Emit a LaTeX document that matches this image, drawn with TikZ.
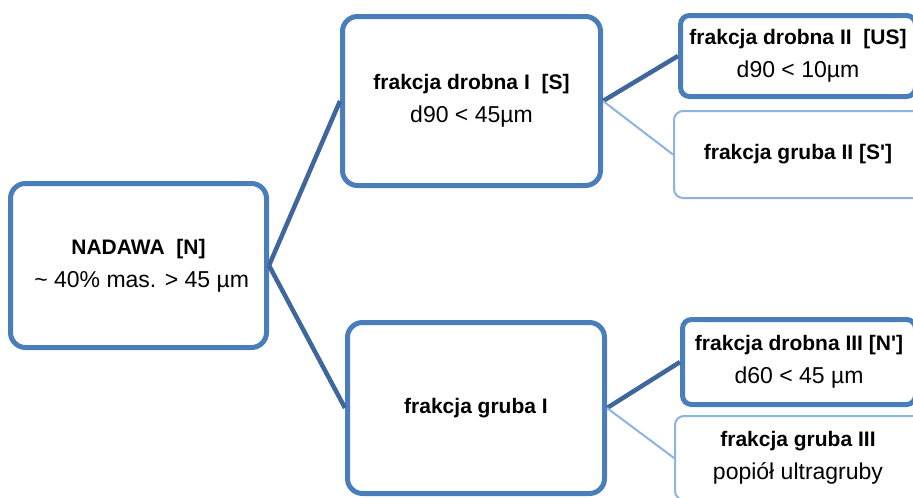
\documentclass[tikz,border=0pt]{standalone}
\usepackage{fontspec}
\setmainfont{Liberation Sans}
\usetikzlibrary{positioning}
\definecolor{boxblue}{HTML}{4A7EBB}
\definecolor{linkblue}{HTML}{3F679C}
\definecolor{paleblue}{HTML}{8DB3E2}
\newcommand{\bodytext}{\fontsize{23}{33}\selectfont}

\begin{document}
\begin{tikzpicture}[x=1pt,y=-1pt,
	every node/.style={font=\fontsize{21}{33}\selectfont, align=center, inner sep=0pt},
	mainbox/.style={draw=boxblue, line width=5pt, rounded corners=15pt, fill=white},
	leafbox/.style={draw=boxblue, line width=5pt, rounded corners=9pt, fill=white},
	palebox/.style={draw=paleblue, line width=2pt, rounded corners=9pt, fill=white},
	strong/.style={draw=linkblue, line width=4.5pt},
	weak/.style={draw=paleblue, line width=2pt}]
			%%%%% START %%%%%
			
			\useasboundingbox (0, 0) rectangle (913, 498);
			\clip (0, 0) rectangle (913, 498);
			
			% left column
			\node[mainbox, minimum width=256pt, minimum height=164pt] (nadawa) at (138.5, 265.5)
				{\textbf{NADAWA\ \ [N]}\\ {\bodytext\ \textasciitilde{} 40\% mas. > 45 µm}};
			
			% middle column
			\node[mainbox, minimum width=258pt, minimum height=169pt] (drobnaI) at (471.5, 101)
				{\textbf{frakcja drobna I\ \ [S]}\\ {\bodytext d90 < 45µm}};
			\node[mainbox, minimum width=257pt, minimum height=171pt] (grubaI) at (476, 408)
				{\textbf{frakcja gruba I}};
			
			% right column
			\node[leafbox, minimum width=235pt, minimum height=81pt] (drobnaII) at (798, 56)
				{\textbf{frakcja drobna II\ \ [US]}\\ {\bodytext d90 < 10µm}};
			\node[palebox, minimum width=248pt, minimum height=87pt] (grubaII) at (798, 154.5)
				{\textbf{frakcja gruba II [S\textquotesingle]}};
			\node[leafbox, minimum width=233pt, minimum height=85pt] (drobnaIII) at (799, 362)
				{\textbf{frakcja drobna III [N\textquotesingle]}\\ {\bodytext d60 < 45 µm}};
			\node[palebox, minimum width=246pt, minimum height=84pt] (grubaIII) at (798, 458)
				{\textbf{frakcja gruba III}\\ {\bodytext popiół ultragruby}};
			
			% links
			\draw[strong] (nadawa.east) -- (drobnaI.west);
			\draw[strong] (nadawa.east) -- (grubaI.west);
			\draw[strong] (drobnaI.east) -- (drobnaII.west);
			\draw[weak] (drobnaI.east) -- (grubaII.west);
			\draw[strong] (grubaI.east) -- (drobnaIII.west);
			\draw[weak] (grubaI.east) -- (grubaIII.west);
			
			%%%%% END %%%%%
		\end{tikzpicture}
\end{document}
